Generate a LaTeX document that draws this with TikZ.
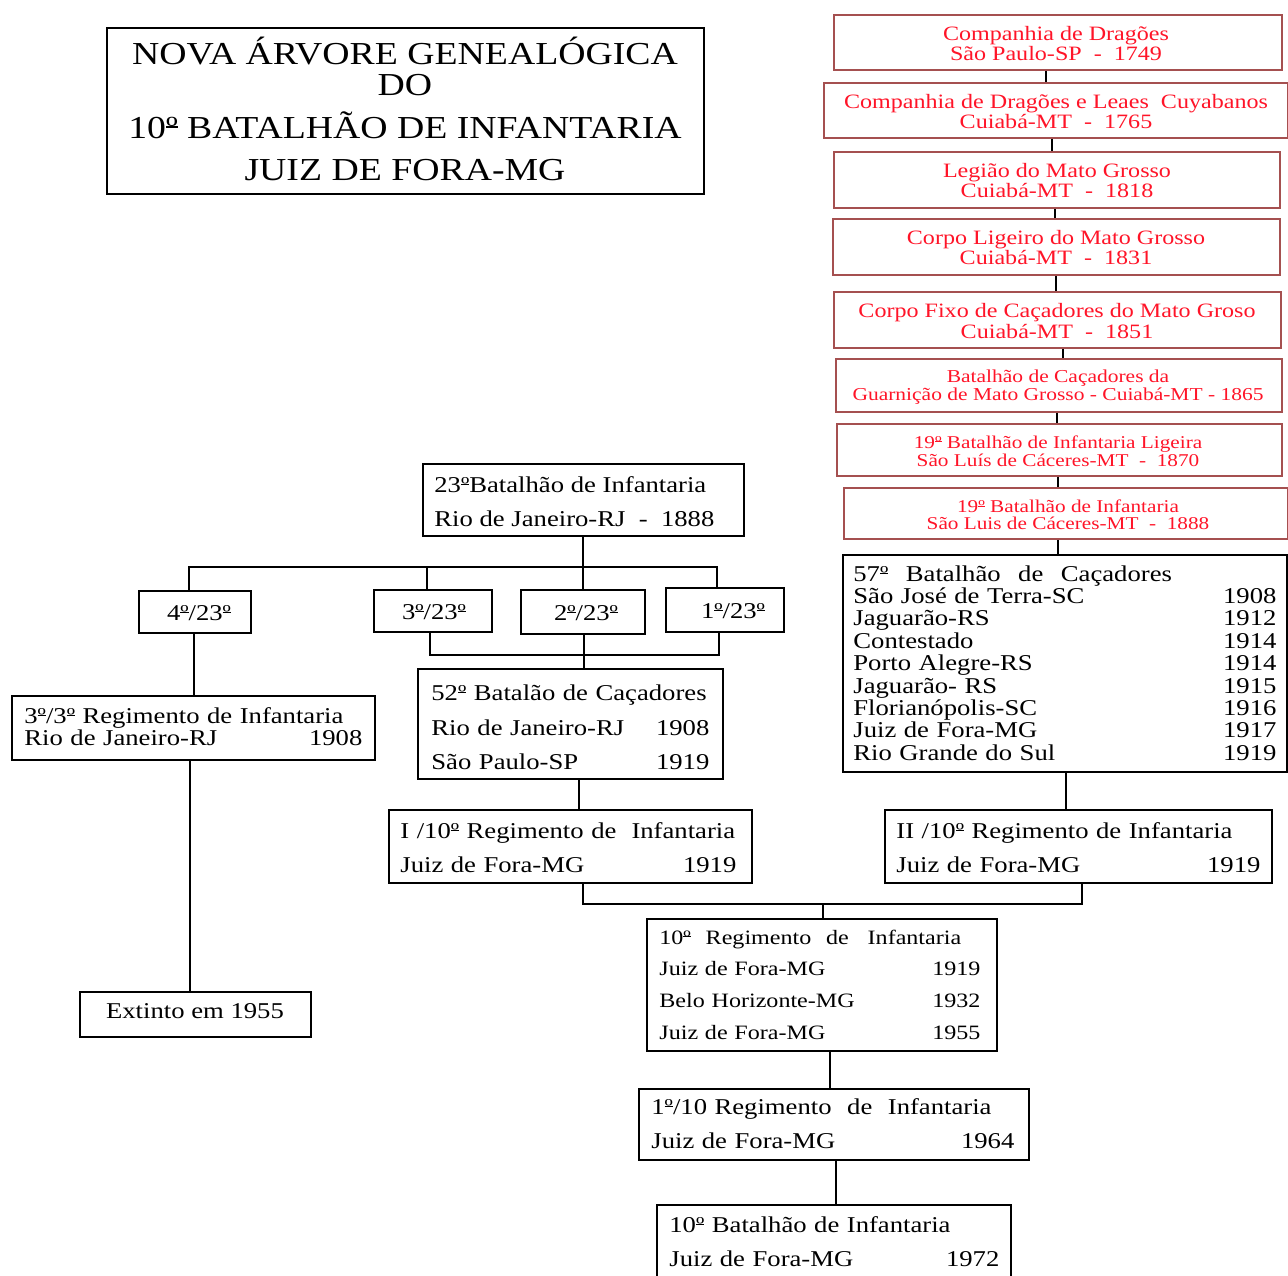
\documentclass[tikz,border=0pt]{standalone}
\usepackage{fontspec}
\setmainfont{Liberation Serif}[FakeStretch=1.18]
\usetikzlibrary{fit}
\definecolor{redtxt}{RGB}{255,20,40}
\definecolor{redline}{RGB}{165,80,80}
\newcommand\om{{\setbox0\hbox{º}\rlap{\copy0}\raisebox{0.33em}{\rule{\wd0}{0.05em}}}}
\begin{document}
\begin{tikzpicture}[x=0.5pt,y=-0.5pt,
  bx/.style={draw, line width=0.9pt, inner sep=0pt},
  rbx/.style={draw=redline, line width=0.9pt, inner sep=0pt},
  rtxt/.style={text=redtxt, align=center, inner sep=0pt},
  ltxt/.style={anchor=west, align=left, inner sep=0pt},
  ctxt/.style={inner sep=0pt},
  con/.style={line width=0.75pt}]
\useasboundingbox (0,0) rectangle (1288,1275);

% ---------- title
\node[bx, line width=1.4pt, fit={(107,28) (704,194)}] (title) {};
\node[ctxt, align=center, font=\fontsize{16}{15.5}\selectfont] (titletxt) at (405,109)
  {NOVA ÁRVORE GENEALÓGICA\\DO\\[6pt]10\om{} BATALHÃO DE INFANTARIA\\[5.5pt]JUIZ DE FORA-MG};

% ---------- red chain
\node[rbx, fit={(834,15) (1282,70)}] (r1) {};
\node[rtxt, font=\fontsize{10.2}{10}\selectfont] (r1t) at (1056,44) {Companhia de Dragões\\São Paulo-SP\ \ -\ \ 1749};
\node[rbx, fit={(824,83) (1288,138)}] (r2) {};
\node[rtxt, font=\fontsize{10.2}{10}\selectfont] (r2t) at (1056,112) {Companhia de Dragões e Leaes\ \ Cuyabanos\\Cuiabá-MT\ \ -\ \ 1765};
\node[rbx, fit={(834,152) (1280,208)}] (r3) {};
\node[rtxt, font=\fontsize{10.2}{10}\selectfont] (r3t) at (1057,181) {Legião do Mato Grosso\\Cuiabá-MT\ \ -\ \ 1818};
\node[rbx, fit={(833,219) (1280,275)}] (r4) {};
\node[rtxt, font=\fontsize{10.2}{10}\selectfont] (r4t) at (1056,248) {Corpo Ligeiro do Mato Grosso\\Cuiabá-MT\ \ -\ \ 1831};
\node[rbx, fit={(834,292) (1281,348)}] (r5) {};
\node[rtxt, font=\fontsize{10.2}{10.5}\selectfont] (r5t) at (1057,321) {Corpo Fixo de Caçadores do Mato Groso\\Cuiabá-MT\ \ -\ \ 1851};
\node[rbx, fit={(836,359) (1282,412)}] (r6) {};
\node[rtxt, font=\fontsize{9.1}{9}\selectfont] (r6t) at (1058,387) {Batalhão de Caçadores da\\Guarnição de Mato Grosso - Cuiabá-MT - 1865};
\node[rbx, fit={(837,424) (1282,476)}] (r7) {};
\node[rtxt, font=\fontsize{9}{9}\selectfont] (r7t) at (1058,451) {19\om{} Batalhão de Infantaria Ligeira\\São Luís de Cáceres-MT\ \ -\ \ 1870};
\node[rbx, fit={(844,488) (1288,539)}] (r8) {};
\node[rtxt, font=\fontsize{9}{8.5}\selectfont] (r8t) at (1068,515) {19\om{} Batalhão de Infantaria\\São Luis de Cáceres-MT\ \ -\ \ 1888};

\draw[con] (r1.south -| 1046,0) -- (r2.north -| 1046,0);
\draw[con] (r2.south -| 1052,0) -- (r3.north -| 1052,0);
\draw[con] (r3.south -| 1055,0) -- (r4.north -| 1055,0);
\draw[con] (r4.south -| 1056,0) -- (r5.north -| 1056,0);
\draw[con] (r5.south -| 1063,0) -- (r6.north -| 1063,0);
\draw[con] (r6.south -| 1057,0) -- (r7.north -| 1057,0);
\draw[con] (r7.south -| 1058,0) -- (r8.north -| 1058,0);

% ---------- 57
\node[bx, fit={(843,555) (1287,772)}] (b57) {};
\node[ltxt, text width=211.5pt, font=\fontsize{11.3}{11.2}\selectfont] (b57t) at (853,663)
  {57\om\hspace{5pt} Batalhão\hspace{5pt} de\hspace{5pt} Caçadores\\
   São José de Terra-SC\hfill 1908\\
   Jaguarão-RS\hfill 1912\\
   Contestado\hfill 1914\\
   Porto Alegre-RS\hfill 1914\\
   Jaguarão- RS\hfill 1915\\
   Florianópolis-SC\hfill 1916\\
   Juiz de Fora-MG\hfill 1917\\
   Rio Grande do Sul\hfill 1919};
\draw[con] (r8.south -| 1058,0) -- (b57.north -| 1058,0);

% ---------- 23
\node[bx, fit={(423,464) (744,536)}] (b23) {};
\node[ltxt, font=\fontsize{11.3}{17}\selectfont] (b23t) at (434,502)
  {23\om{}Batalhão de Infantaria\\Rio de Janeiro-RJ\ \ -\ \ 1888};

\node[bx, fit={(139,591) (251,633)}] (c4) {};
\node[ctxt, font=\fontsize{11.3}{13}\selectfont] (c4t) at (199,613) {4\om/23\om};
\node[bx, fit={(374,590) (492,632)}] (c3) {};
\node[ctxt, font=\fontsize{11.3}{13}\selectfont] (c3t) at (434,612) {3\om/23\om};
\node[bx, fit={(521,590) (645,634)}] (c2) {};
\node[ctxt, font=\fontsize{11.3}{13}\selectfont] (c2t) at (586,613) {2\om/23\om};
\node[bx, fit={(666,588) (784,632)}] (c1) {};
\node[ctxt, font=\fontsize{11.3}{13}\selectfont] (c1t) at (733,611) {1\om/23\om};

\coordinate (j23) at (583,567);
\draw[con] (b23.south -| j23) -- (c2.north -| j23);
\draw[con] (c4.north -| 189,0) -- (189,567) -- (717,567) -- (c1.north -| 717,0);
\draw[con] (427,567) -- (c3.north -| 427,0);

% ---------- 3/3
\node[bx, fit={(12,696) (375,760)}] (b33) {};
\node[ltxt, text width=169pt, font=\fontsize{11.3}{11}\selectfont] (b33t) at (24,727)
  {3\om/3\om{} Regimento de Infantaria\\Rio de Janeiro-RJ\hfill 1908};
\draw[con] (c4.south -| 194,0) -- (b33.north -| 194,0);

\node[bx, fit={(80,992) (311,1037)}] (ext) {};
\node[ctxt, font=\fontsize{11.3}{13}\selectfont] (extt) at (195,1011) {Extinto em 1955};
\draw[con] (b33.south -| 190,0) -- (ext.north -| 190,0);

% ---------- 52
\node[bx, fit={(418,669) (723,779)}] (b52) {};
\node[ltxt, text width=139pt, font=\fontsize{11.3}{17.25}\selectfont] (b52t) at (431,727.5)
  {52\om{} Batalão de Caçadores\\Rio de Janeiro-RJ\hfill 1908\\São Paulo-SP\hfill 1919};
\coordinate (j52) at (584,655);
\draw[con] (c3.south -| 430,0) -- (430,655) -- (719,655) -- (c1.south -| 719,0);
\draw[con] (c2.south -| j52) -- (b52.north -| j52);

% ---------- I/10 and II/10
\node[bx, fit={(389,810) (752,883)}] (i10) {};
\node[ltxt, text width=168pt, font=\fontsize{11.3}{17}\selectfont] (i10t) at (400,848)
  {I /10\om{} Regimento de\ \ Infantaria\\Juiz de Fora-MG\hfill 1919};
\draw[con] (b52.south -| 579,0) -- (i10.north -| 579,0);

\node[bx, fit={(885,810) (1272,883)}] (ii10) {};
\node[ltxt, text width=182pt, font=\fontsize{11.3}{17}\selectfont] (ii10t) at (896,848)
  {II /10\om{} Regimento de Infantaria\\Juiz de Fora-MG\hfill 1919};
\draw[con] (b57.south -| 1066,0) -- (ii10.north -| 1066,0);

% ---------- 10 RI
\node[bx, fit={(647,919) (997,1051)}] (r10) {};
\node[ltxt, text width=160.5pt, font=\fontsize{10.2}{15.85}\selectfont] (r10t) at (659,984.5)
  {10\om\hspace{4pt} Regimento\hspace{4pt} de\hspace{6pt} Infantaria\\
   Juiz de Fora-MG\hfill 1919\\
   Belo Horizonte-MG\hfill 1932\\
   Juiz de Fora-MG\hfill 1955};
\coordinate (j10) at (823,904);
\draw[con] (i10.south -| 583,0) -- (583,904) -- (1082,904) -- (ii10.south -| 1082,0);
\draw[con] (j10) -- (r10.north -| j10);

% ---------- 1/10
\node[bx, fit={(639,1089) (1029,1160)}] (p10) {};
\node[ltxt, text width=181.5pt, font=\fontsize{11.3}{17}\selectfont] (p10t) at (651,1124)
  {1\om/10 Regimento\hspace{4pt} de\hspace{4pt} Infantaria\\Juiz de Fora-MG\hfill 1964};
\draw[con] (r10.south -| 830,0) -- (p10.north -| 830,0);

% ---------- 10 BI
\node[bx, fit={(657,1205) (1011,1290)}] (bi10) {};
\node[ltxt, text width=165pt, font=\fontsize{11.3}{17}\selectfont] (bi10t) at (669,1242)
  {10\om{} Batalhão de Infantaria\\Juiz de Fora-MG\hfill 1972};
\draw[con] (p10.south -| 836,0) -- (bi10.north -| 836,0);
\end{tikzpicture}
\end{document}
